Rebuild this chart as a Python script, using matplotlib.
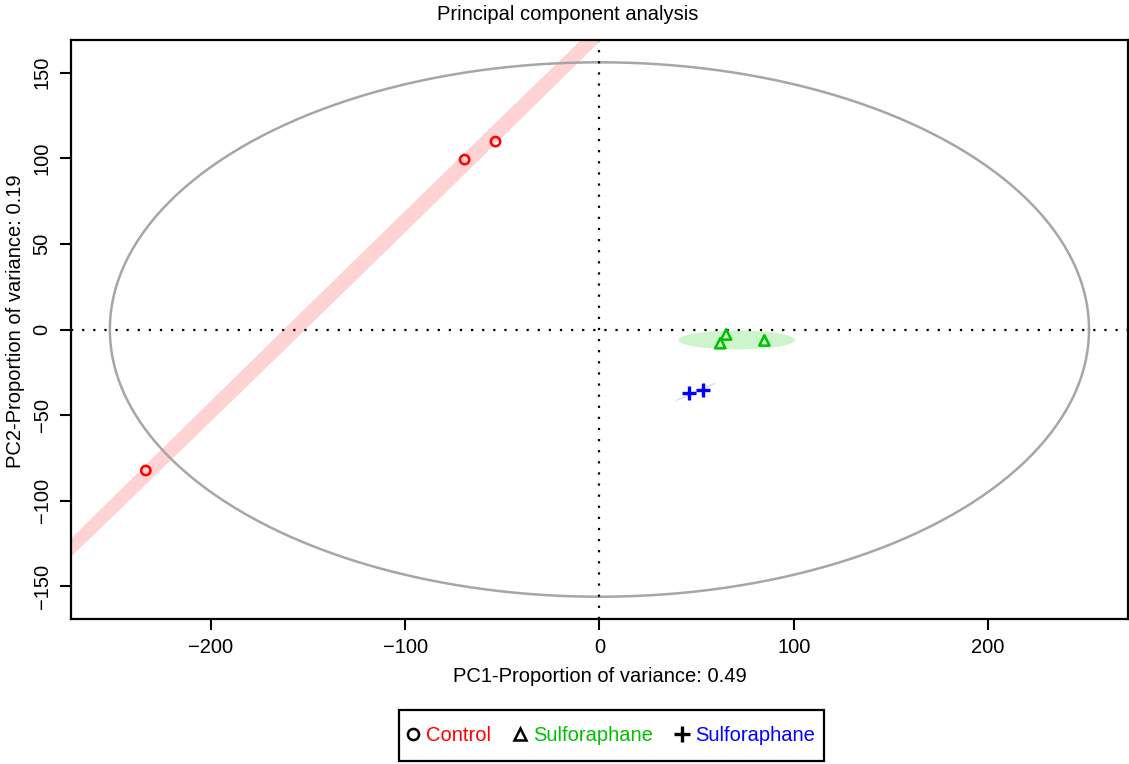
import numpy as np
import matplotlib
matplotlib.use("Agg")
import matplotlib.pyplot as plt
from matplotlib.lines import Line2D
from matplotlib.patches import Rectangle

plt.rcParams['font.family'] = ['Liberation Sans', 'DejaVu Sans']

# ---- Scores ----
control_pc1 = [-233.5, -69.4, -53.5]
control_pc2 = [-82.3, 99.2, 109.7]

sulf_g_pc1 = [65.2, 62.2, 84.9]
sulf_g_pc2 = [-2.9, -8.0, -6.4]

sulf_b_pc1 = [45.9, 53.1]
sulf_b_pc2 = [-37.2, -35.6]

# overall ellipse semi-axes (PC1, PC2)
big_ellipse = (252, 156)

group_labels = ["Control", "Sulforaphane", "Sulforaphane"]
group_colors = ["#ff0000", "#00c000", "#0000ff"]

FS = 14.5


def ellipse_xy(cx, cy, a, b, angle, n=400):
    t = np.linspace(0, 2 * np.pi, n)
    ca, sa = np.cos(angle), np.sin(angle)
    x = cx + a * np.cos(t) * ca - b * np.sin(t) * sa
    y = cy + a * np.cos(t) * sa + b * np.sin(t) * ca
    return x, y


fig = plt.figure(figsize=(11.29, 7.64), dpi=100)
ax = fig.add_axes([0.0629, 0.1898, 0.9361, 0.7578])

# group ellipses
rx, ry = ellipse_xy(np.mean(control_pc1), np.mean(control_pc2), 420, 4.2, np.arctan(1.107))
ax.fill(rx, ry, color="#ffd3d3", lw=0, zorder=1)
gx, gy = ellipse_xy(70.7, -6.1, 30, 5.5, 0.0)
ax.fill(gx, gy, color="#ccf5cc", lw=0, zorder=1)
bx, by = ellipse_xy(np.mean(sulf_b_pc1), np.mean(sulf_b_pc2), 11, 0.3, np.arctan(0.5))
ax.plot(bx, by, color="#dcdcff", lw=0.6, zorder=1)

# overall ellipse
ex, ey = ellipse_xy(0, 0, big_ellipse[0], big_ellipse[1], 0.0)
ax.plot(ex, ey, color="#a6a6a6", lw=1.8, zorder=2)

ax.axhline(0, color="black", ls=(0, (1, 4)), lw=1.6, zorder=2)
ax.axvline(0, color="black", ls=(0, (1, 4)), lw=1.6, zorder=2)

ax.scatter(control_pc1, control_pc2, marker="o", s=45, facecolors="none",
           edgecolors=group_colors[0], linewidths=1.8, zorder=3)
ax.scatter(sulf_g_pc1, sulf_g_pc2, marker="^", s=55, facecolors="none",
           edgecolors=group_colors[1], linewidths=1.8, zorder=3)
ax.scatter(sulf_b_pc1, sulf_b_pc2, marker="+", s=110, color=group_colors[2],
           linewidths=2.4, zorder=3)

ax.set_xlim(-272, 272)
ax.set_ylim(-169, 169)
ax.set_xticks([-200, -100, 0, 100, 200])
ax.set_yticks([-150, -100, -50, 0, 50, 100, 150])
for lab in ax.get_yticklabels():
    lab.set_rotation(90)
    lab.set_va("center")
ax.tick_params(axis="both", direction="out", length=8, width=1.5, labelsize=FS, pad=6)
for sp in ax.spines.values():
    sp.set_linewidth(1.6)

fig.text(568 / 1129, 1 - 14 / 764, "Principal component analysis", fontsize=FS,
         ha="center", va="center")
ax.set_xlabel("PC1-Proportion of variance: 0.49", fontsize=FS, labelpad=7)
ax.set_ylabel("PC2-Proportion of variance: 0.19", fontsize=FS)
ax.yaxis.set_label_coords(-0.044, 0.515)

handles = [
    Line2D([], [], marker="o", ls="none", mfc="none", mec="black", mew=1.8, ms=8),
    Line2D([], [], marker="^", ls="none", mfc="none", mec="black", mew=1.8, ms=9),
    Line2D([], [], marker="+", ls="none", color="black", mew=2.4, ms=12),
]
leg = fig.legend(handles, group_labels, loc="center", bbox_to_anchor=(0.541, 0.0373),
                 ncol=3, fontsize=FS, frameon=False,
                 handlelength=0.6, handletextpad=0.35, columnspacing=1.15,
                 borderpad=0.3)
for txt, c in zip(leg.get_texts(), group_colors):
    txt.set_color(c)

# legend box
fig.patches.append(Rectangle((399 / 1129, 1 - 761 / 764), 425 / 1129, 51 / 764,
                             transform=fig.transFigure, fill=False,
                             edgecolor="black", linewidth=1.6))

fig.savefig("out.png", dpi=100)
